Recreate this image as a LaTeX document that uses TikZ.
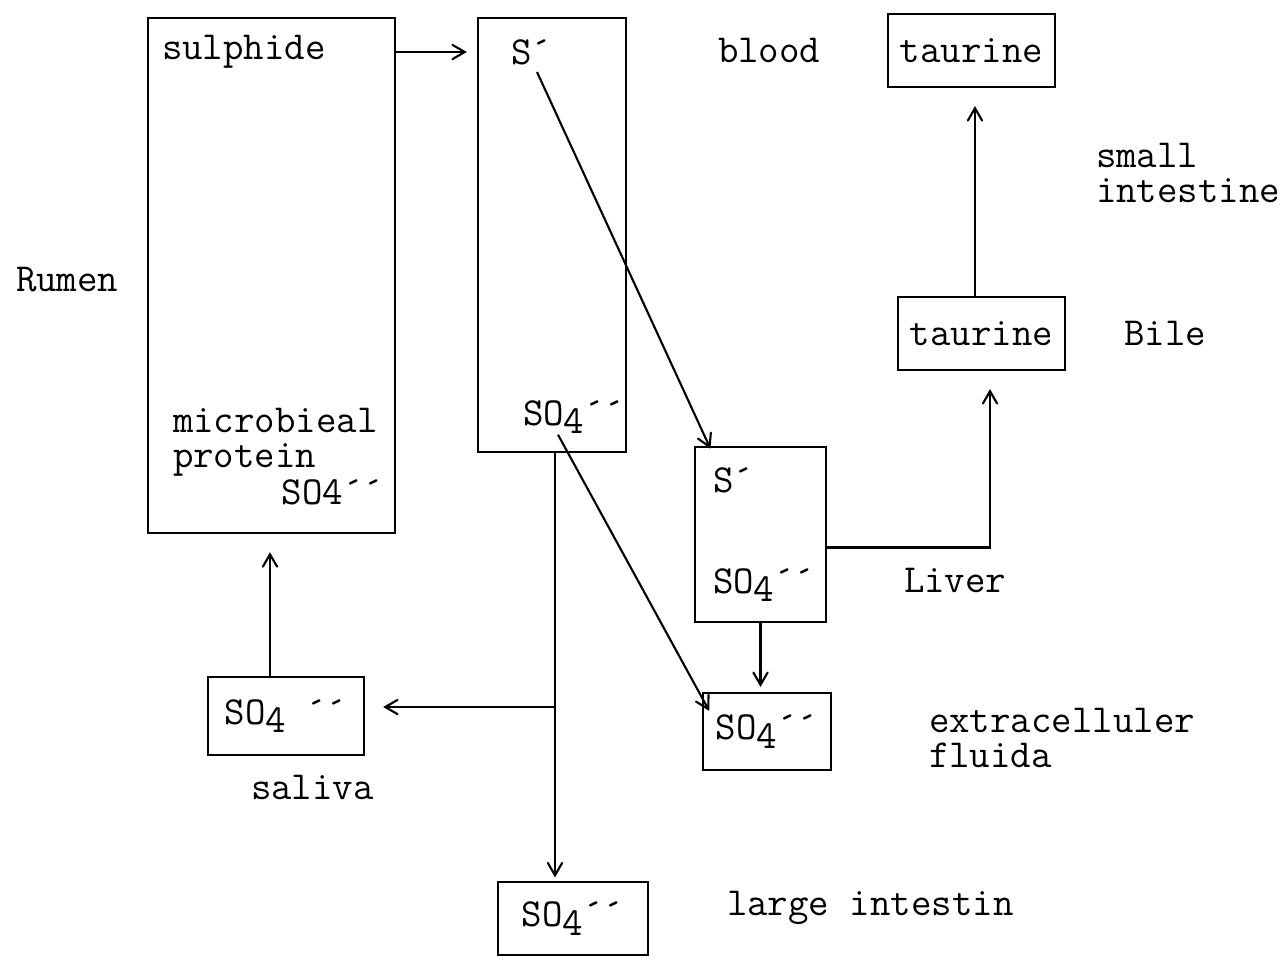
\documentclass[tikz,border=0pt]{standalone}
\usetikzlibrary{positioning, arrows}
\newcommand{\sofour}{SO\raisebox{-0.5ex}{4}}

\begin{document}
\begin{tikzpicture}[x=0.01cm, y=-0.01cm, shorten >=1pt, >=angle 60, line width=0.6pt,
    font=\ttfamily\fontsize{11.3}{10}\selectfont,
    box/.style={draw, inner sep=0pt},
    lbl/.style={inner sep=0pt, anchor=west, align=left},
    gap/.style={shorten >=0.18cm}]
    \useasboundingbox (0,0) rectangle (1284,959);

    % boxes
    \node[box, minimum width=2.47cm, minimum height=5.15cm] (rumen) at (271.5,275.5) {};
    \node[box, minimum width=1.48cm, minimum height=4.34cm] (blood) at (552,235) {};
    \node[box, minimum width=1.31cm, minimum height=1.75cm] (liver) at (760.5,534.5) {};
    \node[box, minimum width=1.67cm, minimum height=0.73cm] (taurtop) at (971.5,50.5) {taurine};
    \node[box, minimum width=1.67cm, minimum height=0.73cm] (bile) at (981.5,333.5) {taurine};
    \node[box, minimum width=1.56cm, minimum height=0.78cm] (saliva) at (286,716) {\sofour\ ´´};
    \node[box, minimum width=1.28cm, minimum height=0.77cm] (ecf) at (767,731.5) {\sofour´´};
    \node[box, minimum width=1.50cm, minimum height=0.73cm] (large) at (573,918.5) {\sofour´´};

    % texts in the boxes
    \node[lbl] (sulph) at (161,52) {sulphide};
    \node[lbl] (micro) at (172,442) {microbieal\\protein};
    \node[lbl, anchor=east] (sorumen) at (385,492) {SO4´´};
    \node[lbl] (sblood) at (510,52) {S´};
    \node[lbl] (soblood) at (522,417) {\sofour´´};
    \node[lbl] (sliver) at (712,480) {S´};
    \node[lbl] (soliver) at (712,585) {\sofour´´};

    % labels
    \node[lbl] (lrumen) at (15,280) {Rumen};
    \node[lbl] (lblood) at (717,50) {blood};
    \node[lbl] (lsmall) at (1095,173) {small\\intestine};
    \node[lbl, right=0.57cm of bile] (lbile) {Bile};
    \node[lbl] (lliver) at (903,580) {Liver};
    \node[lbl] (lecf) at (928,738) {extracelluler\\fluida};
    \node[lbl] (lsaliva) at (250,787) {saliva};
    \node[lbl] (llarge) at (726,908) {large intestin};

    \coordinate (split) at (555,707);

    \draw[->, shorten >=0.1cm] (sulph -| rumen.east) -- (sulph -| blood.west);
    \draw[->] ([xshift=0.27cm,yshift=-0.2cm]sblood.west) -- ([xshift=0.18cm,yshift=-0.06cm]liver.north west);
    \draw[->] ([xshift=0.36cm]soblood.south west) -- ([xshift=0.09cm,yshift=-0.22cm]ecf.north west);
    \draw[->] (split |- blood.south) -- (split |- large.north);
    \draw[->, gap] (split) -- (split -| saliva.east);
    \draw[->, gap] ([xshift=-0.16cm]saliva.north) -- ([xshift=-0.16cm]saliva.north |- rumen.south);
    \draw[->, shorten >=0.05cm] (liver.south) -- (liver.south |- ecf.north);
    \draw[->, gap] ([yshift=-0.13cm]liver.east) -| ([xshift=0.085cm]bile.south);
    \draw[->, gap] ([xshift=-0.065cm]bile.north) -- ([xshift=-0.065cm]bile.north |- taurtop.south);
\end{tikzpicture}
\end{document}
